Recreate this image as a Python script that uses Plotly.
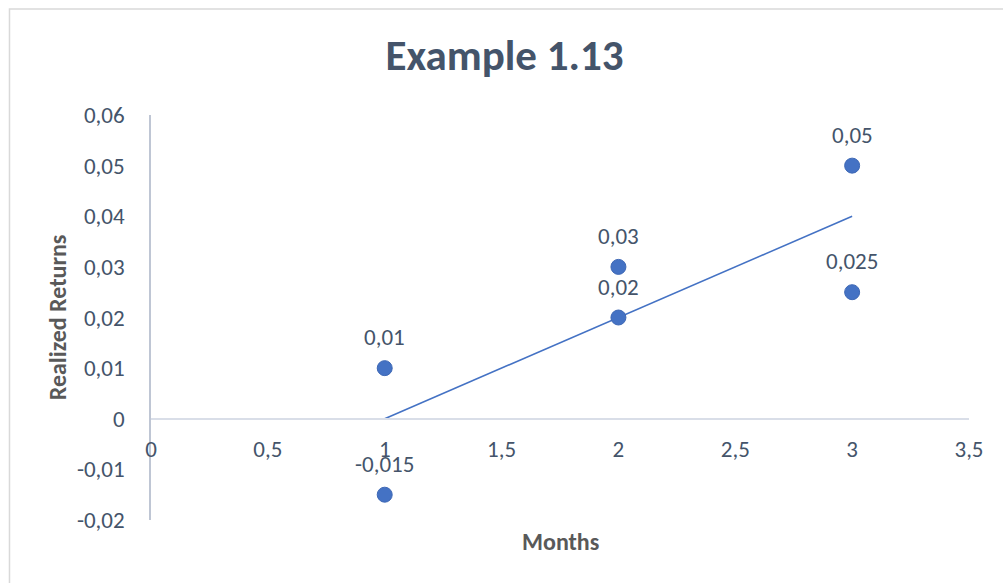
import numpy as np
import plotly.graph_objects as go

months = [1, 1, 2, 2, 3, 3]
returns = [0.01, -0.015, 0.03, 0.02, 0.05, 0.025]
labels = ["0,01", "-0,015", "0,03", "0,02", "0,05", "0,025"]
xticks = [0, 0.5, 1, 1.5, 2, 2.5, 3, 3.5]
xticktext = ["0", "0,5", "1", "1,5", "2", "2,5", "3", "3,5"]
yticks = [-0.02, -0.01, 0, 0.01, 0.02, 0.03, 0.04, 0.05, 0.06]
yticktext = ["-0,02", "-0,01", "0", "0,01", "0,02", "0,03", "0,04", "0,05", "0,06"]

FONT = "Carlito, Lato, 'Open Sans', sans-serif"
TXT = "#44546A"

# linear trendline (least squares)
slope, intercept = np.polyfit(months, returns, 1)
tx = [min(months), max(months)]
ty = [slope * v + intercept for v in tx]

fig = go.Figure()
fig.add_trace(go.Scatter(x=tx, y=ty, mode="lines",
                         line=dict(color="#4472C4", width=1.6),
                         hoverinfo="skip", showlegend=False))
fig.add_trace(go.Scatter(x=months, y=returns, mode="markers",
                         marker=dict(color="#4472C4", size=15,
                                     line=dict(color="#3E68B5", width=1)),
                         showlegend=False))

annotations = []
for xv, yv, t in zip(months, returns, labels):
    annotations.append(dict(x=xv, y=yv, text=t, showarrow=False, yshift=31,
                            font=dict(family=FONT, size=23, color=TXT)))
annotations.append(dict(xref="paper", yref="paper", x=0.5, y=-0.012, yanchor="top",
                        xanchor="center",
                        text="<b>Months</b>", showarrow=False,
                        font=dict(family=FONT, size=24, color="#595959")))
annotations.append(dict(xref="paper", yref="paper", x=-0.114, y=0.5, textangle=-90,
                        xanchor="center", yanchor="middle",
                        text="<b>Realized Returns</b>", showarrow=False,
                        font=dict(family=FONT, size=24, color="#595959")))

fig.update_layout(
    width=1003, height=583,
    margin=dict(l=151, r=34, t=115, b=63),
    paper_bgcolor="white", plot_bgcolor="white",
    title=dict(text="<b>Example 1.13</b>", x=0.503, xanchor="center",
               y=0.905, yanchor="middle",
               font=dict(family=FONT, size=43, color=TXT)),
    font=dict(family=FONT, size=23, color=TXT),
    annotations=annotations,
    shapes=[dict(type="rect", xref="paper", yref="paper",
                 x0=-0.173, x1=1.2, y0=-0.3, y1=1.262,
                 line=dict(color="#D9D9D9", width=1.5), layer="below")],
    xaxis=dict(range=[0, 3.5], tickvals=xticks, ticktext=xticktext,
               showgrid=False, zeroline=False, showline=True,
               linecolor="#D9DEE8", linewidth=1.5,
               anchor="free", position=0.25,
               ticks="", ticklabelstandoff=10,
               tickfont=dict(family=FONT, size=23, color=TXT)),
    yaxis=dict(range=[-0.02, 0.06], tickvals=yticks, ticktext=yticktext,
               showgrid=False, zeroline=False, showline=True,
               linecolor="#BFC6D4", linewidth=1.5,
               ticks="", ticklabelstandoff=20,
               tickfont=dict(family=FONT, size=23, color=TXT)),
)

fig.write_html("out.html")
